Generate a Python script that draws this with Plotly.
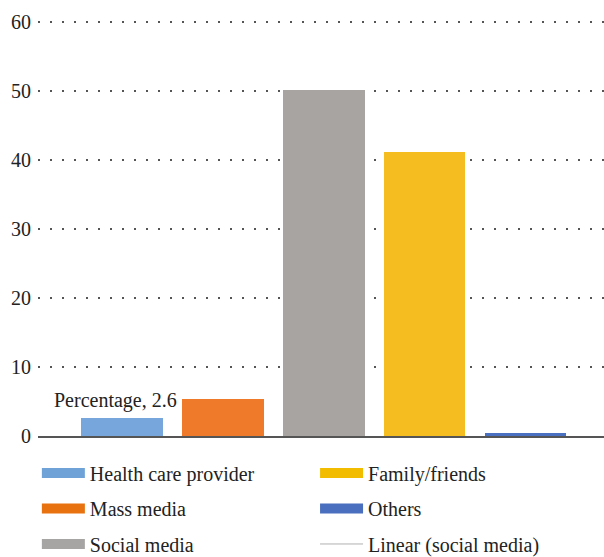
import plotly.graph_objects as go

categories = ["Health care provider", "Mass media", "Social media", "Family/friends", "Others"]
values = [2.6, 5.3, 50.2, 41.2, 0.4]
bar_colors = ["#76a6db", "#ee7a2a", "#a8a4a2", "#f6bd20", "#4a70c2"]
legend_colors = ["#6fa3d8", "#e8720f", "#a7a5a4", "#f2bd00", "#4a6fbe"]
y_ticks = [0, 10, 20, 30, 40, 50, 60]
label_text = "Percentage, 2.6"

FONT = "Times New Roman, Liberation Serif, Tinos, serif"
fig = go.Figure()

for i, (c, v) in enumerate(zip(categories, values)):
    fig.add_trace(go.Bar(x=[c], y=[v], marker=dict(color=bar_colors[i], line=dict(width=0)),
                         width=0.81, showlegend=False))

legend_ids = ["legend", "legend", "legend", "legend2", "legend2"]
for i, c in enumerate(categories):
    fig.add_trace(go.Scatter(x=[None], y=[None], mode="lines", name=c,
                             line=dict(color=legend_colors[i], width=10),
                             legend=legend_ids[i], legendgroup=c))
fig.add_trace(go.Scatter(x=[None], y=[None], mode="lines", name="Linear (social media)",
                         line=dict(color="#b0b0b0", width=1), legend="legend2",
                         legendgroup="linear"))

fig.add_annotation(x=categories[0], y=values[0], text=label_text, showarrow=False,
                   yanchor="bottom", xshift=-7, yshift=4,
                   font=dict(family=FONT, size=20, color="#222"))

legend_common = dict(font=dict(family=FONT, size=20, color="#222"), orientation="v",
                     yanchor="top", xanchor="left", tracegroupgap=6.5, itemwidth=43,
                     bgcolor="rgba(0,0,0,0)", traceorder="grouped")

fig.update_layout(
    width=604, height=557,
    margin=dict(l=38, r=0, t=20, b=121, autoexpand=False),
    plot_bgcolor="white", paper_bgcolor="white",
    bargap=0,
    font=dict(family=FONT, size=20, color="#222"),
    xaxis=dict(range=[-0.834, 4.78], showticklabels=False, showgrid=False,
               showline=True, linecolor="#555", linewidth=2, ticks="", fixedrange=True),
    yaxis=dict(range=[0, 60.3], tickvals=y_ticks, showgrid=True, gridcolor="#555",
               griddash="2px,10px", gridwidth=1.5, zeroline=False, showline=False,
               ticks="", ticklabelstandoff=6, tickfont=dict(family=FONT, size=20, color="#222")),
    legend=dict(x=-0.002, y=-0.042, **legend_common),
    legend2=dict(x=0.4895, y=-0.042, **legend_common),
)

fig.write_html("out.html")
